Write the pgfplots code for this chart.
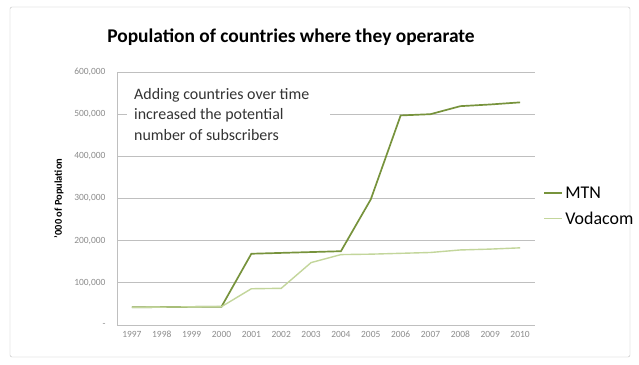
\documentclass[border=0pt]{standalone}
\usepackage{fontspec}
\setmainfont{Carlito}
\usepackage{pgfplots}
\pgfplotsset{compat=1.18}
\definecolor{mtn}{HTML}{77933C}
\definecolor{voda}{HTML}{C3D69B}
\definecolor{gridc}{HTML}{BFBFBF}
\definecolor{tickc}{HTML}{8C8C8C}
\begin{document}
\begin{tikzpicture}[x=1bp,y=1bp]
\fill[white] (0,0) rectangle (639,364);
\draw[gridc, rounded corners=2bp] (10,7) rectangle (630,357);
\begin{axis}[
  at={(117bp,39bp)}, anchor=south west,
  scale only axis, width=418bp, height=253bp,
  xmin=-0.5, xmax=13.5, ymin=0, ymax=600000,
  scaled y ticks=false,
  axis lines*=left,
  axis line style={gridc, line width=0.8pt},
  xtick={0,...,13},
  xticklabels={1997,1998,1999,2000,2001,2002,2003,2004,2005,2006,2007,2008,2009,2010},
  ytick={0,100000,200000,300000,400000,500000,600000},
  yticklabels={{-},{100,000},{200,000},{300,000},{400,000},{500,000},{600,000}},
  major tick length=0pt,
  ymajorgrids, grid style={gridc, line width=0.8pt},
  tick label style={font=\fontsize{9.5}{10}\selectfont, text=tickc},
  xticklabel style={yshift=-3bp},
  yticklabel style={xshift=-8bp},
  ylabel={'000 of Population},
  ylabel style={font=\bfseries\fontsize{10.5}{11}\selectfont, yshift=4bp},
  legend style={at={(1.02,0.47)}, anchor=west, draw=none, fill=none,
    font=\fontsize{18}{20}\selectfont, row sep=8bp, inner sep=0pt},
  legend cell align=left,
  legend image code/.code={\draw[#1] (0bp,0bp) -- (18bp,0bp);},
]
\addplot[mtn, line width=1.7pt] coordinates {
(0,42000) (1,42500) (2,43000) (3,43500) (4,169000) (5,171000) (6,173000)
(7,175000) (8,298000) (9,497000) (10,500000) (11,519000) (12,523000) (13,528000)};
\addlegendentry{MTN}
\addplot[voda, line width=1.4pt] coordinates {
(0,42000) (1,42500) (2,43000) (3,43500) (4,86000) (5,87000) (6,148000)
(7,167000) (8,168000) (9,170000) (10,172000) (11,178000) (12,180000) (13,183000)};
\addlegendentry{Vodacom}
\end{axis}
\fill[white] (127,214) rectangle (330,279);
\node[anchor=north west, inner xsep=7bp, inner ysep=3bp, align=left,
  font=\fontsize{16}{20.5}\selectfont, text=black!80] at (127,279)
  {Adding countries over time\\increased the potential\\number of subscribers};
\node[font=\bfseries\fontsize{19.5}{22}\selectfont] at (291,327) {Population of countries where they operarate};
\end{tikzpicture}
\end{document}
